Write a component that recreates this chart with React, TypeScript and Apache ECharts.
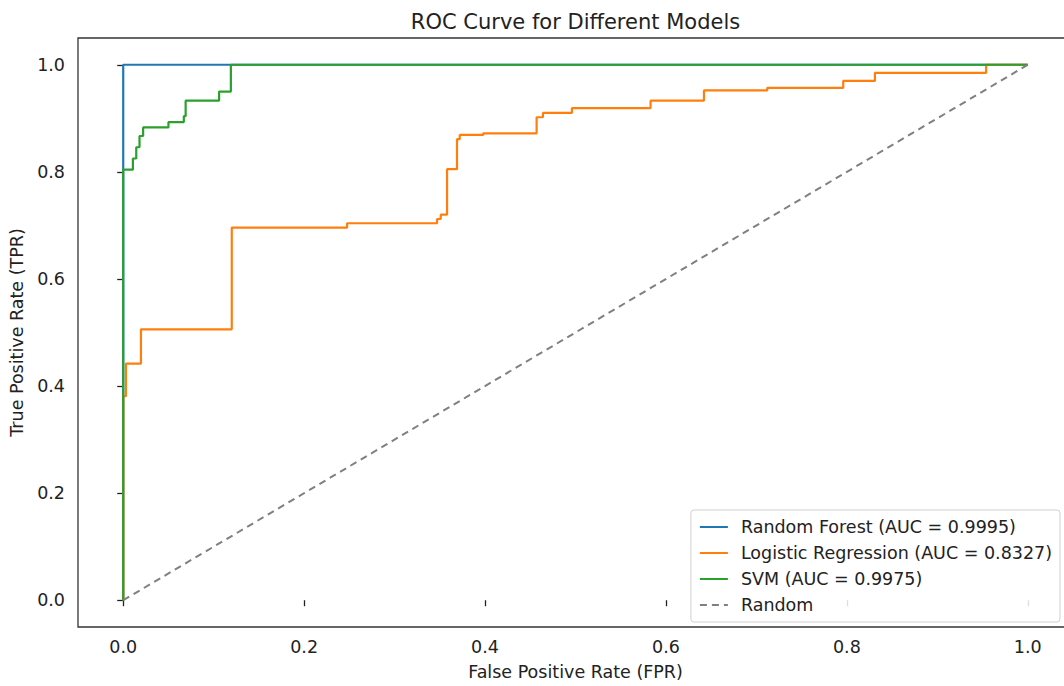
import React, { useEffect, useRef } from "react";
import * as echarts from "echarts";

const titleText = "ROC Curve for Different Models";
const xAxisName = "False Positive Rate (FPR)";
const yAxisName = "True Positive Rate (TPR)";
const tickValues = [0, 0.2, 0.4, 0.6, 0.8, 1.0];

const seriesNames = [
  "Random Forest (AUC = 0.9995)",
  "Logistic Regression (AUC = 0.8327)",
  "SVM (AUC = 0.9975)",
  "Random",
];
const seriesColors = ["#1f77b4", "#ff7f0e", "#2ca02c", "#808080"];

const randomForestRoc: number[][] = [
  [0, 0],
  [0, 1.0],
  [1, 1.0],
];

const logisticRoc: number[][] = [
  [0, 0], [0, 0.381], [0.003, 0.381], [0.003, 0.442], [0.0196, 0.442],
  [0.0196, 0.506], [0.12, 0.506], [0.12, 0.696], [0.2475, 0.696],
  [0.2475, 0.704], [0.347, 0.704], [0.347, 0.712], [0.351, 0.712],
  [0.351, 0.72], [0.358, 0.72], [0.358, 0.805], [0.369, 0.805],
  [0.369, 0.861], [0.372, 0.861], [0.372, 0.869], [0.398, 0.869],
  [0.398, 0.872], [0.457, 0.872], [0.457, 0.902], [0.464, 0.902],
  [0.464, 0.91], [0.496, 0.91], [0.496, 0.919], [0.583, 0.919],
  [0.583, 0.933], [0.642, 0.933], [0.642, 0.952], [0.712, 0.952],
  [0.712, 0.957], [0.796, 0.957], [0.796, 0.97], [0.831, 0.97],
  [0.831, 0.985], [0.954, 0.985], [0.954, 1.0], [1, 1.0],
];

const svmRoc: number[][] = [
  [0, 0], [0, 0.804], [0.0107, 0.804], [0.0107, 0.825], [0.0144, 0.825],
  [0.0144, 0.846], [0.018, 0.846], [0.018, 0.867], [0.022, 0.867],
  [0.022, 0.883], [0.05, 0.883], [0.05, 0.893], [0.067, 0.893],
  [0.067, 0.904], [0.069, 0.904], [0.069, 0.933], [0.106, 0.933],
  [0.106, 0.95], [0.119, 0.95], [0.119, 1.0], [1, 1.0],
];

const chanceLine: number[][] = [
  [0, 0],
  [1, 1],
];

const FONT = "DejaVu Sans";

export default function App() {
  const ref = useRef<HTMLDivElement>(null);
  useEffect(() => {
    if (!ref.current) return;
    const chart = echarts.init(ref.current, undefined, { renderer: "svg" });
    const datasets = [randomForestRoc, logisticRoc, svmRoc, chanceLine];
    const axisCommon = {
      type: "value" as const,
      min: -0.05,
      max: 1.05,
      nameLocation: "middle" as const,
      nameTextStyle: { fontFamily: FONT, fontSize: 17.5, color: "#222" },
      axisLine: { show: false },
      splitLine: { show: false },
      axisTick: {
        show: true,
        inside: false,
        length: 6,
        customValues: tickValues,
        lineStyle: { color: "#222", width: 1.3 },
      },
      axisLabel: {
        customValues: tickValues,
        formatter: (v: number) => v.toFixed(1),
        fontFamily: FONT,
        fontSize: 17.5,
        color: "#222",
      },
    };
    chart.setOption({
      animation: false,
      backgroundColor: "#ffffff",
      title: {
        text: titleText,
        left: "center",
        top: 6,
        textStyle: { fontFamily: FONT, fontSize: 21, fontWeight: "normal", color: "#222" },
      },
      grid: {
        left: 78,
        right: 78,
        top: 38,
        bottom: 55,
        show: true,
        borderColor: "#333",
        borderWidth: 1.3,
        backgroundColor: "transparent",
      },
      xAxis: {
        ...axisCommon,
        name: xAxisName,
        nameGap: 36,
        axisLabel: { ...axisCommon.axisLabel, margin: 11 },
      },
      yAxis: {
        ...axisCommon,
        name: yAxisName,
        nameGap: 45,
        axisLabel: { ...axisCommon.axisLabel, margin: 13 },
      },
      legend: {
        orient: "vertical",
        right: 91,
        bottom: 64,
        padding: [8, 8, 8, 8],
        itemWidth: 28,
        itemHeight: 14,
        itemGap: 8,
        borderColor: "#d0d0d0",
        borderWidth: 1,
        borderRadius: 3,
        backgroundColor: "rgba(255,255,255,0.85)",
        itemStyle: { opacity: 0 },
        textStyle: { fontFamily: FONT, fontSize: 17.5, color: "#222", padding: [0, 0, 0, 8] },
        data: seriesNames,
      },
      series: datasets.map((d, i) => ({
        name: seriesNames[i],
        type: "line",
        data: d,
        symbol: "none",
        showSymbol: false,
        silent: true,
        z: 2 + i,
        color: seriesColors[i],
        lineStyle: {
          color: seriesColors[i],
          width: i === 3 ? 2 : 2.2,
          type: i === 3 ? [7, 5] : "solid",
        },
      })),
    });
    return () => chart.dispose();
  }, []);
  return (
    <div
      ref={ref}
      style={{ position: "fixed", left: 0, top: 0, width: 1151, height: 686, background: "#fff" }}
    />
  );
}
